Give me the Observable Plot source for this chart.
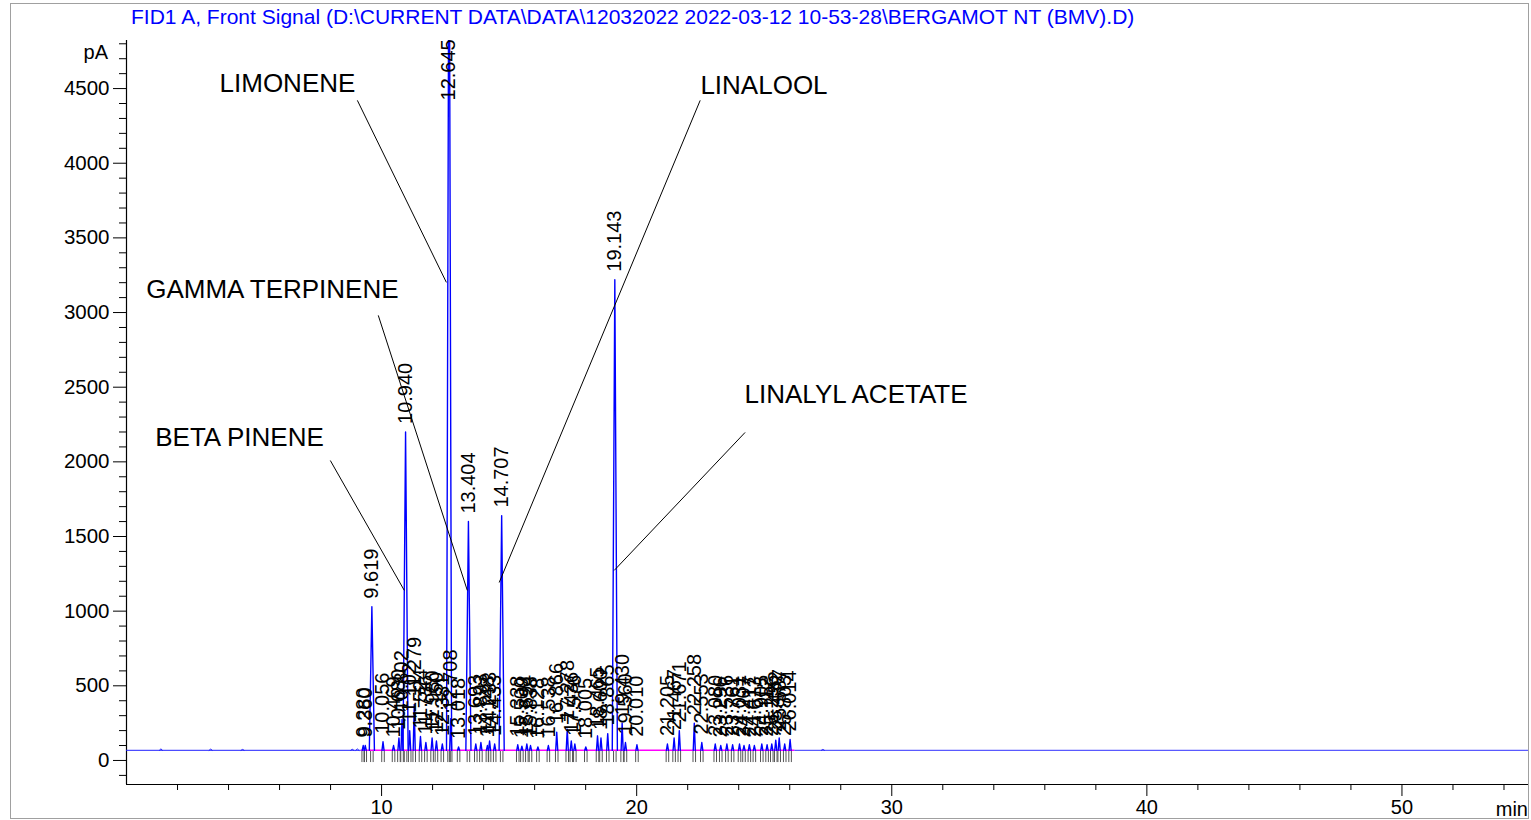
<!DOCTYPE html>
<html><head><meta charset="utf-8">
<script src="https://cdn.jsdelivr.net/npm/d3@7"></script>
<script src="https://cdn.jsdelivr.net/npm/@observablehq/plot@0.6"></script>
<style>
body{margin:0;background:#fff;}
#wrap{position:relative;width:1531px;height:820px;overflow:hidden;font-family:"Liberation Sans",Arial,sans-serif;}
#frame{position:absolute;left:10px;top:3px;width:1519px;height:816px;border:1px solid #a0a0a0;box-sizing:border-box;pointer-events:none}
#title{position:absolute;left:131px;top:4px;font-size:21px;line-height:26px;color:#0000ff;white-space:nowrap}
#ylab{position:absolute;right:1423px;top:39px;font-size:20px;line-height:26px;color:#000}
#xlab{position:absolute;right:3px;top:796px;font-size:20px;line-height:26px;color:#000}
#chart svg{display:block}
</style></head>
<body><div id="wrap"><div id="chart"></div><div id="title"></div><div id="ylab">pA</div><div id="xlab">min</div><div id="frame"></div></div>
<script>
const title = "FID1 A, Front Signal (D:\\CURRENT DATA\\DATA\\12032022 2022-03-12 10-53-28\\BERGAMOT NT (BMV).D)";

// retention times (min) and apex signal (pA)
const retentionTimes = [9.280, 9.360, 9.619, 10.056, 10.469, 10.680, 10.802, 10.940, 11.102, 11.279,
  11.524, 11.736, 11.980, 12.150, 12.381, 12.645, 12.708, 13.018, 13.404, 13.693,
  13.893, 14.148, 14.233, 14.433, 14.707, 15.338, 15.500, 15.694, 15.838, 16.128,
  16.538, 16.866, 17.278, 17.436, 17.576, 18.005, 18.465, 18.600, 18.865, 19.143,
  19.430, 19.560, 20.010, 21.205, 21.467, 21.671, 22.258, 22.553, 23.080, 23.296,
  23.536, 23.761, 24.031, 24.207, 24.417, 24.613, 24.905, 25.112, 25.296, 25.452,
  25.587, 25.803, 26.014];
const peakHeights = [100, 100, 1030, 125, 100, 150, 275, 2200, 200, 375,
  160, 120, 150, 130, 110, 6200, 280, 90, 1600, 110,
  120, 100, 130, 110, 1640, 105, 95, 110, 100, 90,
  100, 190, 210, 130, 110, 90, 165, 150, 180, 3220,
  250, 120, 105, 110, 150, 200, 250, 120, 110, 100,
  110, 105, 110, 100, 105, 100, 110, 105, 110, 135,
  150, 110, 140];

// small baseline disturbances
const noiseTimes = [1.35, 3.30, 4.55, 8.85, 9.05, 27.30];
const noiseHeights = [78, 76, 74, 75, 77, 74];

const baselineLevel = 68;
const integrationRange = [9.2, 26.2];

// compound annotations: label position and leader line (time, pA)
const compoundNames = ["LIMONENE", "LINALOOL", "GAMMA TERPINENE", "BETA PINENE", "LINALYL ACETATE"];
const labelTimes = [6.31, 24.99, 5.72, 4.43, 28.60];
const labelSignals = [4534, 4521, 3155, 2163, 2451];
const leaderStartT = [9.05, 22.49, 9.87, 7.99, 24.25];
const leaderStartY = [4421, 4421, 2981, 2009, 2197];
const leaderEndT = [12.54, 14.61, 13.36, 10.89, 19.12];
const leaderEndY = [3202, 1192, 1139, 1139, 1273];

const xMajorTicks = [10, 20, 30, 40, 50];
const xMinorTicks = [2, 4, 6, 8, 12, 14, 16, 18, 22, 24, 26, 28, 32, 34, 36, 38, 42, 44, 46, 48, 52, 54];
const yMajorTicks = [0, 500, 1000, 1500, 2000, 2500, 3000, 3500, 4000, 4500];
const yMinorTicks = [-100, 100, 200, 300, 400, 600, 700, 800, 900, 1100, 1200, 1300, 1400, 1600, 1700, 1800, 1900,
  2100, 2200, 2300, 2400, 2600, 2700, 2800, 2900, 3100, 3200, 3300, 3400, 3600, 3700, 3800, 3900,
  4100, 4200, 4300, 4400, 4600, 4700, 4800];

document.getElementById("title").textContent = title;

const yMin = -161, yMax = 4822, labelCap = 4367;

const peaks = retentionTimes.map((t, i) => ({id: i, t, h: peakHeights[i], hw: peakHeights[i] > 1000 ? 0.1 : 0.04}));
const peakShape = peaks.flatMap(p => [
  {id: p.id, t: p.t - p.hw, v: baselineLevel},
  {id: p.id, t: p.t, v: p.h},
  {id: p.id, t: p.t + p.hw, v: baselineLevel}
]);
const noiseShape = noiseTimes.flatMap((t, i) => [
  {id: "n" + i, t: t - 0.06, v: baselineLevel},
  {id: "n" + i, t, v: noiseHeights[i]},
  {id: "n" + i, t: t + 0.06, v: baselineLevel}
]);
const integrationTicks = peaks.flatMap(p => [p.t - 0.05, p.t + 0.05]);
const annotations = compoundNames.map((name, i) => ({
  name, tx: labelTimes[i], ty: labelSignals[i],
  x1: leaderStartT[i], y1: leaderStartY[i], x2: leaderEndT[i], y2: leaderEndY[i]
}));

const chart = Plot.plot({
  width: 1531,
  height: 820,
  marginTop: 40,
  marginBottom: 36,
  marginLeft: 126,
  marginRight: 2,
  style: {fontFamily: "'Liberation Sans', Arial, sans-serif", fontSize: "20px", background: "transparent", overflow: "visible"},
  x: {domain: [0, 55]},
  y: {domain: [yMin, yMax]},
  marks: [
    Plot.axisY(yMinorTicks, {tickSize: 7, tickFormat: () => "", label: null}),
    Plot.axisY(yMajorTicks, {tickSize: 13, tickPadding: 4, fontSize: 20.5, label: null, tickFormat: d => String(d)}),
    Plot.axisX(xMinorTicks, {tickSize: 6, tickFormat: () => "", label: null}),
    Plot.axisX(xMajorTicks, {tickSize: 12, tickPadding: 3, fontSize: 20, label: null, tickFormat: d => String(d)}),
    Plot.ruleX([0], {stroke: "#000", strokeWidth: 1.2}),
    Plot.ruleY([yMin], {stroke: "#000", strokeWidth: 1.2}),
    // integration marks
    Plot.ruleX(integrationTicks, {y1: -14, y2: baselineLevel, stroke: "#555", strokeWidth: 1}),
    Plot.ruleY([baselineLevel], {x1: integrationRange[0], x2: integrationRange[1], stroke: "#ff00ff", strokeWidth: 1.5}),
    // signal
    Plot.ruleY([baselineLevel], {x1: 0, x2: integrationRange[0], stroke: "#2020ff", strokeWidth: 1}),
    Plot.ruleY([baselineLevel], {x1: integrationRange[1], x2: 55, stroke: "#3030ff", strokeWidth: 1}),
    Plot.line(noiseShape, {x: "t", y: "v", z: "id", stroke: "#2020ff", strokeWidth: 1}),
    Plot.line(peakShape, {x: "t", y: "v", z: "id", stroke: "#0000ff", strokeWidth: 1.4, clip: true}),
    // retention time labels
    Plot.text(peaks, {
      x: "t", y: d => Math.min(d.h, labelCap), text: d => d.t.toFixed(3),
      rotate: -90, textAnchor: "start", lineAnchor: "middle", dy: -8,
      fontSize: 20, fill: "#000"
    }),
    // compound annotations
    Plot.link(annotations, {x1: "x1", y1: "y1", x2: "x2", y2: "y2", stroke: "#000", strokeWidth: 1}),
    Plot.text(annotations, {x: "tx", y: "ty", text: "name", fontSize: 26, fill: "#000", textAnchor: "middle", lineAnchor: "middle"})
  ]
});
document.getElementById("chart").appendChild(chart);
</script>
</body></html>
